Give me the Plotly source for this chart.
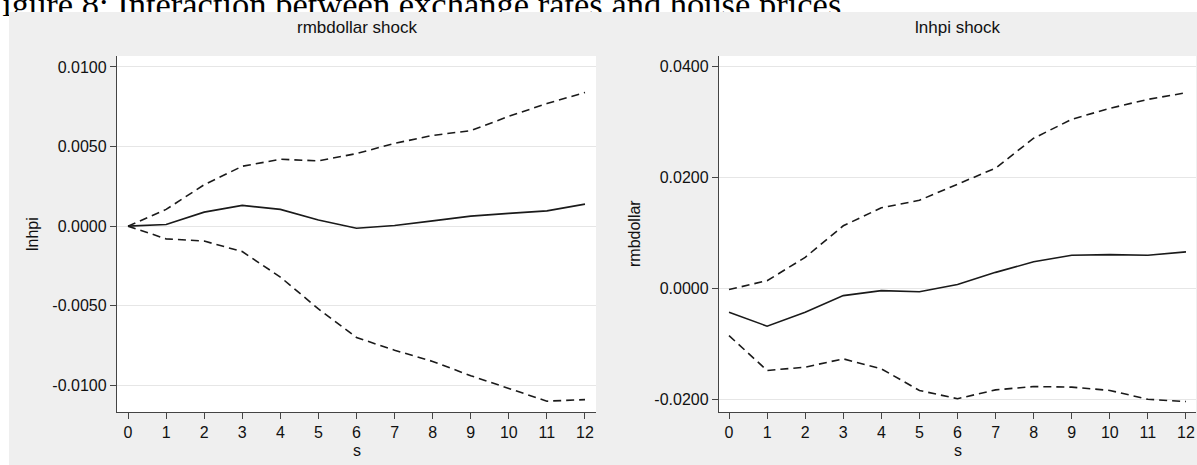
import plotly.graph_objects as go

# Impulse-response steps
steps = list(range(13))

# rmbdollar shock -> response of lnhpi
lnhpi_irf = [0.0, 0.0001, 0.00088, 0.0013, 0.00105, 0.00038, -0.00013, 0.00004,
             0.00033, 0.00063, 0.0008, 0.00096, 0.00138]
lnhpi_upper = [0.0, 0.00105, 0.0026, 0.00376, 0.0042, 0.0041, 0.00456, 0.0052,
               0.0057, 0.0060, 0.0069, 0.0077, 0.0084]
lnhpi_lower = [0.0, -0.0008, -0.00094, -0.0016, -0.0032, -0.0052, -0.0070, -0.0078,
               -0.0085, -0.0094, -0.0102, -0.0110, -0.0109]

# lnhpi shock -> response of rmbdollar
rmb_irf = [-0.0043, -0.0068, -0.0043, -0.0013, -0.0004, -0.0006, 0.0007, 0.0029,
           0.0048, 0.0060, 0.0061, 0.0060, 0.0066]
rmb_upper = [-0.0002, 0.0014, 0.0056, 0.0113, 0.01455, 0.0159, 0.0188, 0.0217,
             0.0271, 0.0305, 0.0325, 0.0341, 0.0353]
rmb_lower = [-0.0085, -0.0148, -0.0142, -0.0127, -0.0145, -0.0184, -0.0199, -0.0183,
             -0.0177, -0.0178, -0.0184, -0.0200, -0.0204]

left_yticks = [0.01, 0.005, 0.0, -0.005, -0.01]
right_yticks = [0.04, 0.02, 0.0, -0.02]

figure_title = "Figure 8: Interaction between exchange rates and house prices"
panel_titles = ["rmbdollar shock", "lnhpi shock"]
y_titles = ["lnhpi", "rmbdollar"]
x_title = "s"

W, H = 1197, 465
PANEL_BG = "#efefef"
LINE = "#1a1a1a"
AXIS = "#444444"
GRID = "#e6e6e6"
FONT = "Liberation Sans, Arial, sans-serif"


def px_x(p):
    return p / W


def px_y(p):
    return 1 - p / H


fig = go.Figure()


def add_panel(fig, xa, ya, irf, up, lo):
    for vals, dash in ((up, "8px,5px"), (lo, "8px,5px"), (irf, "solid")):
        fig.add_trace(go.Scatter(
            x=steps, y=vals, mode="lines", xaxis=xa, yaxis=ya,
            line=dict(color=LINE, width=1.6, dash=dash),
            showlegend=False, hoverinfo="skip"))


add_panel(fig, "x", "y", lnhpi_irf, lnhpi_upper, lnhpi_lower)
add_panel(fig, "x2", "y2", rmb_irf, rmb_upper, rmb_lower)

# caption drawn as a text trace on a full-page overlay so it can sit beneath the grey strip
fig.add_trace(go.Scatter(
    x=[-17], y=[7.5], mode="text", text=[figure_title], textposition="middle right",
    textfont=dict(family="Liberation Serif, Times New Roman, serif", size=34.5, color="#000000"),
    xaxis="x3", yaxis="y3", showlegend=False, hoverinfo="skip", cliponaxis=True))

tickfont = dict(family=FONT, size=16, color="#111111")


def xaxis_cfg(domain, rng, anchor):
    return dict(domain=domain, range=rng, tickmode="array", tickvals=steps,
                ticktext=[str(s) for s in steps], ticks="outside", ticklen=6,
                tickcolor=AXIS, tickwidth=1.2, showline=True, linecolor=AXIS, linewidth=1.4,
                showgrid=False, zeroline=False, tickfont=tickfont, anchor=anchor,
                fixedrange=True)


def yaxis_cfg(domain, rng, tv, anchor):
    return dict(domain=domain, range=rng, tickmode="array", tickvals=tv,
                ticktext=[f"{v:.4f}" for v in tv], ticks="outside", ticklen=6,
                tickcolor=AXIS, tickwidth=1.2, showline=True, linecolor=AXIS, linewidth=1.4,
                showgrid=True, gridcolor=GRID, gridwidth=1, zeroline=False,
                tickfont=tickfont, anchor=anchor, fixedrange=True)


ydom = [px_y(412), px_y(56)]
fig.update_layout(
    width=W, height=H,
    margin=dict(l=0, r=0, t=0, b=0),
    paper_bgcolor=PANEL_BG,
    plot_bgcolor="rgba(0,0,0,0)",
    xaxis=xaxis_cfg([px_x(117), px_x(596)], [-0.289, 12.289], "y"),
    yaxis=yaxis_cfg(ydom, [-0.01168, 0.01069], left_yticks, "x"),
    xaxis2=xaxis_cfg([px_x(719), px_x(1196)], [-0.263, 12.263], "y2"),
    yaxis2=yaxis_cfg(ydom, [-0.02229, 0.04193], right_yticks, "x2"),
    xaxis3=dict(domain=[0, 1], range=[0, W], visible=False, anchor="y3", fixedrange=True),
    yaxis3=dict(domain=[0, 1], range=[H, 0], visible=False, anchor="x3", fixedrange=True),
)

shapes = [
    # white page strips around the grey graph region
    dict(type="rect", xref="paper", yref="paper", x0=0, x1=1, y0=px_y(12), y1=1,
         fillcolor="white", line_width=0, layer="below"),
    dict(type="rect", xref="paper", yref="paper", x0=0, x1=px_x(9), y0=0, y1=1,
         fillcolor="white", line_width=0, layer="below"),
    # plot regions
    dict(type="rect", xref="x domain", yref="y domain", x0=0, x1=1, y0=0, y1=1,
         fillcolor="white", line_width=0, layer="below"),
    dict(type="rect", xref="x2 domain", yref="y2 domain", x0=0, x1=1, y0=0, y1=1,
         fillcolor="white", line_width=0, layer="below"),
    # grey band covering the caption descenders
    dict(type="rect", xref="paper", yref="paper", x0=px_x(9), x1=1, y0=px_y(26), y1=px_y(12),
         fillcolor=PANEL_BG, line_width=0, layer="above"),
]
fig.update_layout(shapes=shapes)

ann = []
for cx, t in zip([(117 + 596) / 2, (719 + 1196) / 2], panel_titles):
    ann.append(dict(x=px_x(cx), y=px_y(28), xref="paper", yref="paper", text=t,
                    showarrow=False, xanchor="center", yanchor="middle",
                    font=dict(family=FONT, size=17, color="#111111")))
for cx, t in zip([33, 635], y_titles):
    ann.append(dict(x=px_x(cx), y=px_y(234), xref="paper", yref="paper", text=t,
                    showarrow=False, xanchor="center", yanchor="middle", textangle=-90,
                    font=dict(family=FONT, size=16, color="#111111")))
for cx in [(117 + 596) / 2, (719 + 1196) / 2]:
    ann.append(dict(x=px_x(cx), y=px_y(450), xref="paper", yref="paper", text=x_title,
                    showarrow=False, xanchor="center", yanchor="middle",
                    font=dict(family=FONT, size=16, color="#111111")))
fig.update_layout(annotations=ann)

fig.write_html("out.html", config={"displayModeBar": False})
